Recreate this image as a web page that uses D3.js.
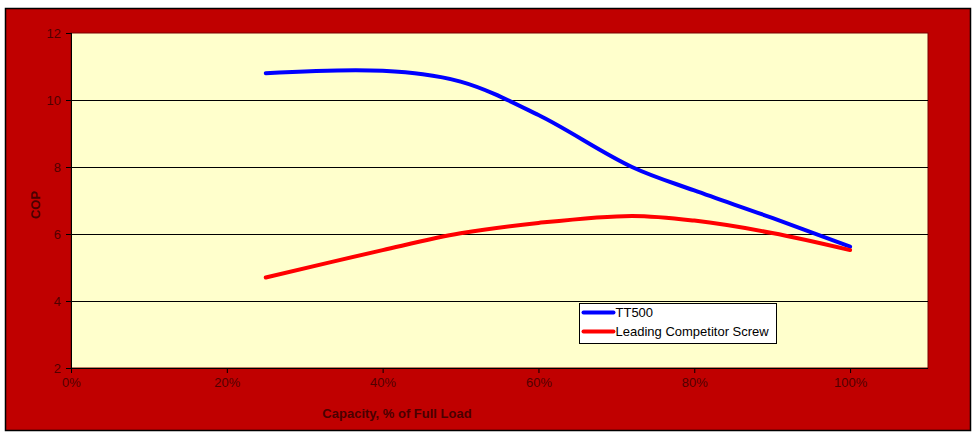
<!DOCTYPE html>
<html>
<head>
<meta charset="utf-8">
<script src="https://cdn.jsdelivr.net/npm/d3@7"></script>
<style>
  body { margin: 0; background: #fff; }
  svg { font-family: "Liberation Sans", Arial, sans-serif; }
</style>
</head>
<body>
<svg></svg>
<script>
var svg_width = 978;
var svg_height = 435;

// DATA
var capacity = [0.25, 0.40, 0.50, 0.60, 0.72, 0.80, 0.90, 1.00];
var tt500 = [10.8, 10.87, 10.55, 9.55, 8.0, 7.3, 6.48, 5.62];
var competitor = [4.7, 5.52, 6.02, 6.33, 6.54, 6.4, 6.03, 5.52];
var seriesNames = ["TT500", "Leading Competitor Screw"];
var xTicks = [0, 0.2, 0.4, 0.6, 0.8, 1.0];
var yTicks = [2, 4, 6, 8, 10, 12];

var plot = { left: 71, top: 33, right: 928, bottom: 368 };

var xScale = d3.scaleLinear().domain([0, 1.1]).range([plot.left, plot.right]);
var yScale = d3.scaleLinear().domain([2, 12]).range([plot.bottom, plot.top]);

var svg = d3.select("svg")
    .attr("width", svg_width)
    .attr("height", svg_height);

// chart background
svg.append("rect")
    .attr("x", 5.5).attr("y", 8.5)
    .attr("width", 965).attr("height", 422)
    .attr("fill", "#C00000")
    .attr("stroke", "#000").attr("stroke-width", 1.5);

// plot area
svg.append("rect")
    .attr("x", plot.left).attr("y", plot.top)
    .attr("width", plot.right - plot.left).attr("height", plot.bottom - plot.top)
    .attr("fill", "#FFFFCC")
    .attr("stroke", "#7a0000").attr("stroke-width", 1);

// gridlines
svg.append("g").selectAll("line")
    .data(yTicks.slice(1, -1))
    .enter().append("line")
      .attr("x1", plot.left).attr("x2", plot.right)
      .attr("y1", function(d) { return Math.round(yScale(d)) + 0.5; })
      .attr("y2", function(d) { return Math.round(yScale(d)) + 0.5; })
      .attr("stroke", "#000").attr("stroke-width", 1);

// AXES
var xAxis = d3.axisBottom(xScale)
              .tickValues(xTicks)
              .tickFormat(d3.format(".0%"))
              .tickSize(5)
              .tickSizeOuter(0);
var yAxis = d3.axisLeft(yScale)
              .tickValues(yTicks)
              .tickSize(5)
              .tickSizeOuter(0);

var gx = svg.append("g")
    .attr("transform", "translate(0," + plot.bottom + ")")
    .call(xAxis);
var gy = svg.append("g")
    .attr("transform", "translate(" + plot.left + ",0)")
    .call(yAxis);

gx.select(".domain").attr("stroke", "#000").attr("d", "M" + plot.left + ",0.5H" + plot.right);
gy.select(".domain").attr("stroke", "#000").attr("d", "M0.5," + plot.top + "V" + plot.bottom);
[gx, gy].forEach(function(g) {
  g.attr("font-size", 13).attr("font-family", "Liberation Sans, Arial, sans-serif");
  g.selectAll(".tick line").attr("stroke", "#000");
  g.selectAll(".tick text").attr("fill", "#500000");
});
gx.selectAll(".tick text").attr("y", 10);
gy.selectAll(".tick text").attr("x", -10);

// LINES
var line = d3.line()
    .x(function(d) { return xScale(d[0]); })
    .y(function(d) { return yScale(d[1]); })
    .curve(d3.curveCatmullRom.alpha(0.5));

var series = [
  { name: seriesNames[0], color: "#0000FF", values: d3.zip(capacity, tt500) },
  { name: seriesNames[1], color: "#FF0000", values: d3.zip(capacity, competitor) }
];

svg.append("g").selectAll("path")
    .data(series)
    .enter().append("path")
      .attr("d", function(d) { return line(d.values); })
      .attr("fill", "none")
      .attr("stroke", function(d) { return d.color; })
      .attr("stroke-width", 4)
      .attr("stroke-linecap", "round");

// LEGEND
var legend = svg.append("g").attr("transform", "translate(579.5,303.5)");
legend.append("rect")
    .attr("width", 197).attr("height", 40)
    .attr("fill", "#fff").attr("stroke", "#000").attr("stroke-width", 1);
var items = legend.selectAll("g.item")
    .data(series)
    .enter().append("g")
      .attr("class", "item")
      .attr("transform", function(d, i) { return "translate(0," + (9 + i * 19) + ")"; });
items.append("line")
    .attr("x1", 4).attr("x2", 34)
    .attr("stroke", function(d) { return d.color; })
    .attr("stroke-width", 4)
    .attr("stroke-linecap", "round");
items.append("text")
    .attr("x", 36).attr("dy", "0.35em")
    .attr("font-size", 13)
    .attr("fill", "#000")
    .text(function(d) { return d.name; });

// AXES LABELS
svg.append("text")
    .attr("x", 397)
    .attr("y", 418)
    .attr("font-size", 13)
    .attr("font-weight", "bold")
    .attr("fill", "#4a0000")
    .style("text-anchor", "middle")
    .text("Capacity, % of Full Load");

svg.append("text")
    .attr("transform", "rotate(-90)")
    .attr("x", -205)
    .attr("y", 40)
    .attr("font-size", 13)
    .attr("font-weight", "bold")
    .attr("fill", "#4a0000")
    .style("text-anchor", "middle")
    .text("COP");
</script>
</body>
</html>
